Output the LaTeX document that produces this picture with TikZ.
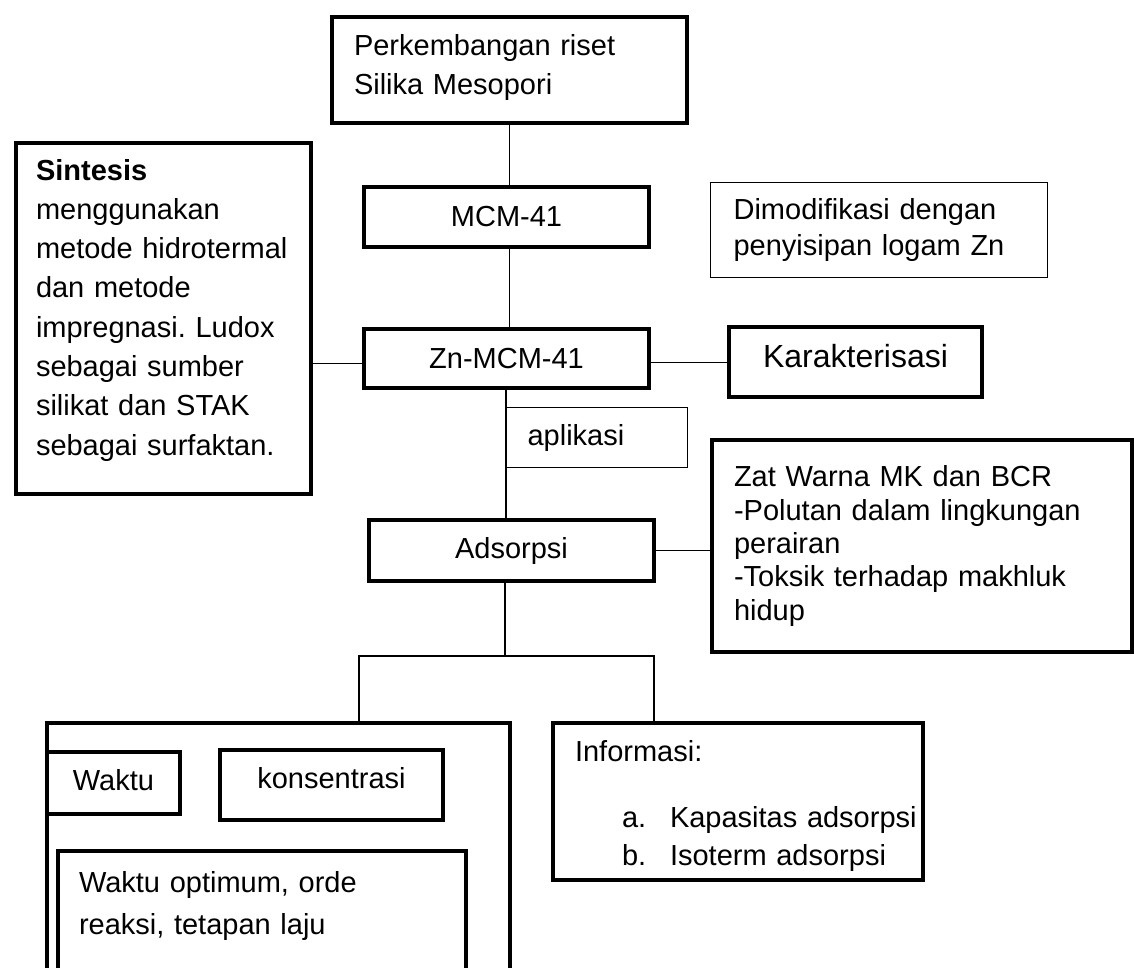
\documentclass[tikz,border=0pt]{standalone}
\usepackage{fontspec}
\setmainfont{Liberation Sans}
\frenchspacing

\begin{document}
\begin{tikzpicture}[x=1pt, y=-1pt,
	box/.style={draw, rectangle, line width=4pt, anchor=north west, inner xsep=22pt, inner ysep=0pt, font=\fontsize{29}{39}\selectfont},
	thinbox/.style={box, line width=1.2pt},
	link/.style={line width=1.2pt}]
			\useasboundingbox (0,0) rectangle (1134,967);
			\clip (0,0) rectangle (1134,967);
			% kolom tengah
			\node[box, text width=311pt, minimum height=106pt, text height=21pt, text depth=51pt, align=left] (riset) at (330,15) {Perkembangan riset\\Silika Mesopori};
			\node[box, minimum width=285pt, minimum height=60pt] (mcm) at (362,185) {MCM-41};
			\node[box, minimum width=285pt, minimum height=59pt] (zn) at (362,327) {Zn-MCM-41};
			\node[thinbox, text width=139pt, inner xsep=21pt, minimum height=60pt, align=left] (aplikasi) at (506,407) {aplikasi};
			\node[box, minimum width=285pt, minimum height=61pt] (adsorpsi) at (367,518) {Adsorpsi};
			% samping
			\node[box, text width=255pt, inner xsep=20pt, inner ysep=16pt, text height=21pt, text depth=298pt, align=left, font=\fontsize{29}{39.3}\selectfont] (sintesis) at (14,141) {\textbf{Sintesis}\\menggunakan\\metode hidrotermal\\dan metode\\impregnasi. Ludox\\sebagai sumber\\silikat dan STAK\\sebagai surfaktan.};
			\node[thinbox, text width=291pt, inner xsep=23pt, minimum height=95pt, align=left, font=\fontsize{29}{36}\selectfont] (modif) at (710,182) {Dimodifikasi dengan\\penyisipan logam Zn};
			\node[box, minimum width=253pt, minimum height=70pt, text height=23pt, text depth=12pt, font=\fontsize{32}{38}\selectfont] (karak) at (727,325) {Karakterisasi};
			\node[box, text width=376pt, minimum height=212pt, align=left, font=\fontsize{29}{33.3}\selectfont] (zat) at (710,438) {Zat Warna MK dan BCR\\-Polutan dalam lingkungan\\perairan\\-Toksik terhadap makhluk\\hidup};
			% bawah
			\node[box, minimum width=463pt, minimum height=300pt] (big) at (45,721) {};
			\node[box, minimum width=133pt, minimum height=62pt, text height=21pt, text depth=7pt] (waktu) at (45,750) {Waktu};
			\node[box, minimum width=223pt, minimum height=70pt, text height=21pt, text depth=15pt] (konsen) at (218,748) {konsentrasi};
			\node[box, text width=366pt, inner xsep=21pt, inner ysep=20pt, text height=21pt, text depth=80pt, align=left, font=\fontsize{29}{42}\selectfont] (hasil) at (56,849) {Waktu optimum, orde\\reaksi, tetapan laju};
			\node[box, text width=326pt, minimum height=157pt, text height=21pt, text depth=102pt, align=left, font=\fontsize{29}{38}\selectfont] (info) at (551,721) {Informasi:\\[28pt]\hspace*{47pt}\makebox[48pt][l]{a.}\mbox{Kapasitas adsorpsi}\\\hspace*{47pt}\makebox[48pt][l]{b.}\mbox{Isoterm adsorpsi}};
			% garis
			\coordinate (forkL) at (359,656);
			\coordinate (fork) at (505,656);
			\coordinate (forkR) at (654,656);
			\draw[link] (riset.south) -- (riset.south |- mcm.north);
			\draw[link] (riset.south |- mcm.south) -- (riset.south |- zn.north);
			\draw[link] ([yshift=-5pt]zn.west) -- ([yshift=-5pt]zn.west -| sintesis.east);
			\draw[link] ([yshift=-4pt]zn.east) -- ([yshift=-4pt]zn.east -| karak.west);
			\draw[link] (aplikasi.west |- zn.south) -- (aplikasi.west |- adsorpsi.north);
			\draw[link] (adsorpsi.east) -- (adsorpsi.east -| zat.west);
			\draw[link] (fork |- adsorpsi.south) -- (fork);
			\draw[link] (forkL |- big.north) -- (forkL) -- (forkR) -- (forkR |- info.north);
		\end{tikzpicture}
\end{document}
